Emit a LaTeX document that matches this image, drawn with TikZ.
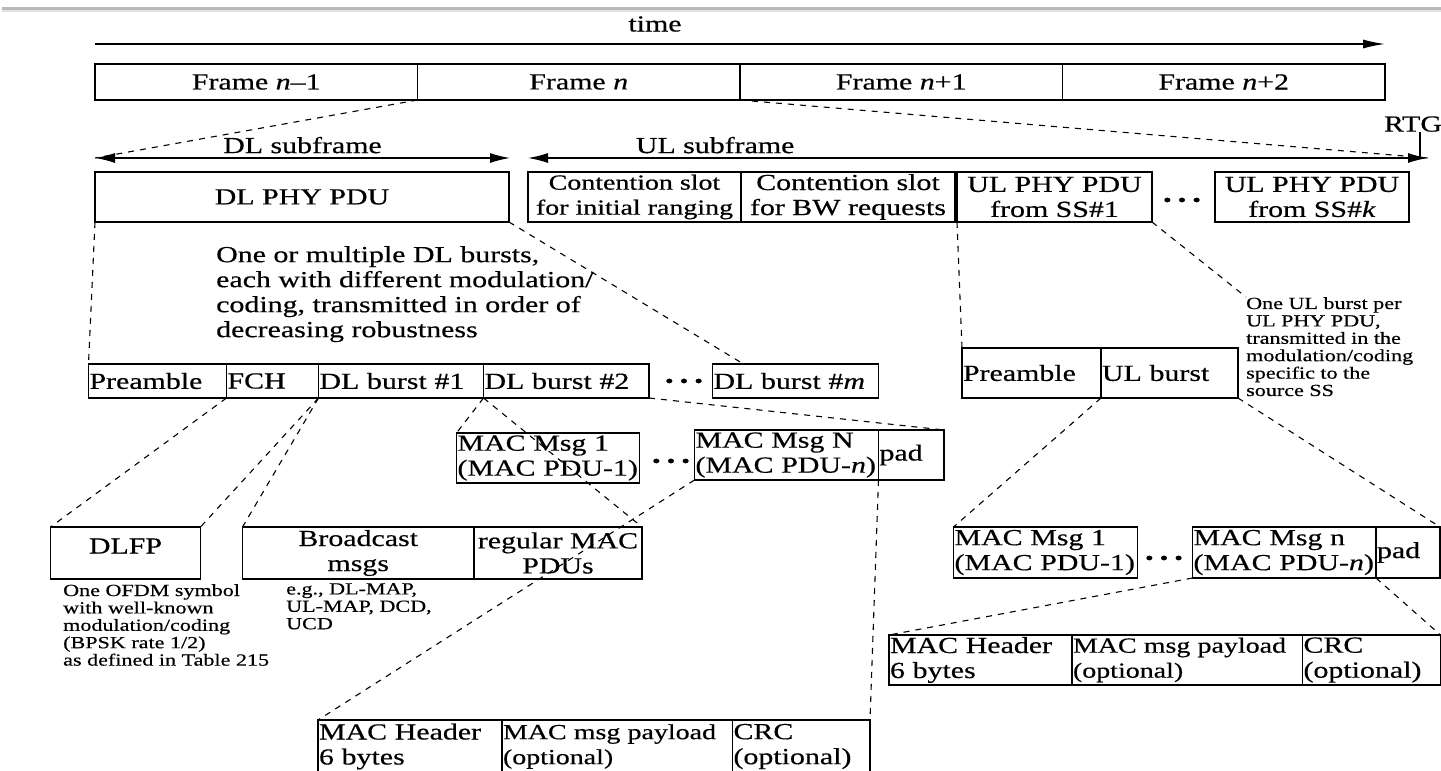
\documentclass[tikz,border=0pt]{standalone}
\usepackage{fontspec}
\setmainfont{Liberation Serif}[FakeStretch=1.3, FakeBold=0.5]
\usetikzlibrary{arrows.meta,positioning,calc}

\newcommand{\bigtxt}{\fontsize{23}{25}\selectfont}
\newcommand{\narrowtxt}{\fontsize{21.5}{25}\selectfont}
\newcommand{\smalltxt}{\fontsize{17}{17.4}\selectfont}
\newcommand{\burstdots}{\textbullet\hspace{6pt}\textbullet\hspace{6pt}\textbullet}

\begin{document}
\begin{tikzpicture}[
    x=1pt, y=-1pt,
    cell/.style={draw, line width=1.4pt, inner xsep=1pt, inner ysep=0pt, outer sep=0pt, align=center},
    lcell/.style={cell, align=left},
    framecell/.style={cell, minimum width=322.5pt, minimum height=36pt},
    notetext/.style={inner sep=0pt, align=left, font=\smalltxt},
    ellip/.style={inner sep=0pt, font=\fontsize{19}{19}\selectfont},
    cutline/.style={line width=1.1pt, dash pattern=on 6pt off 6pt},
    spanarrow/.style={{Latex[length=20pt,width=10pt]}-{Latex[length=20pt,width=10pt]}, line width=1.4pt},
    every node/.append style={font=\bigtxt},
  ]
  \useasboundingbox (0,0) rectangle (1441,771);
  \fill[gray!55] (2,7) rectangle (1441,9.5);
  \fill[gray!22] (2,9.5) rectangle (1441,12);

  % time axis and frames
  \coordinate (tstart) at (95,44);
  \coordinate (tend) at (1385,44);
  \draw[line width=1.4pt, -{Latex[length=22pt,width=9pt]}] (tstart) -- (tend);
  \node (timelbl) at (655,24) {time};

  \node[framecell, anchor=north west] (fprev) at (95,64) {Frame \textit{n}--1};
  \node[framecell, right=0pt of fprev] (fcur) {Frame \textit{n}};
  \node[framecell, right=0pt of fcur] (fnext) {Frame \textit{n}+1};
  \node[framecell, right=0pt of fnext] (fnextb) {Frame \textit{n}+2};

  % subframes
  \coordinate (dls) at (95,158);
  \coordinate (dle) at (510,158);
  \coordinate (uls) at (528,158);
  \coordinate (ule) at (1428,158);
  \draw[spanarrow] (dls) -- node[above, pos=0.5, inner sep=4pt] (dllbl) {DL subframe} (dle);
  \draw[spanarrow] (uls) -- node[above, pos=0.208, inner sep=4pt] (ullbl) {UL subframe} (ule);
  \coordinate (rtgtick) at (1420,158);
  \node[above=26pt of rtgtick, xshift=-7pt, inner sep=0pt] (rtg) {RTG};
  \draw[line width=1.4pt] (rtg.south -| rtgtick) -- (rtgtick);

  \draw[cutline] (fcur.south west) -- (dls);
  \draw[cutline] (fcur.south east) -- (ule);

  % PHY PDUs
  \node[cell, minimum width=414pt, minimum height=50pt, anchor=north west] (dlphy) at (95,172) {DL PHY PDU};
  \node[cell, font=\narrowtxt, minimum width=213pt, minimum height=50pt, anchor=north west] (csinit) at (528,172) {Contention slot\\for initial ranging};
  \node[cell, minimum width=214pt, minimum height=50pt, right=0pt of csinit] (csbw) {Contention slot\\for BW requests};
  \node[cell, minimum width=195pt, minimum height=50pt, right=2pt of csbw] (ulphy1) {UL PHY PDU\\from SS\#1};
  \node[cell, minimum width=194pt, minimum height=50pt, anchor=north west] (ulphyk) at (1215,172) {UL PHY PDU\\from SS\#\textit{k}};
  \node[ellip] (phydots) at (1182,202) {\burstdots};

  % DL bursts
  \node[lcell, text width=136pt, minimum height=34pt, anchor=north west] (dlpre) at (88.5,364) {Preamble};
  \node[lcell, text width=90pt, minimum height=34pt, right=0pt of dlpre] (fch) {FCH};
  \node[lcell, text width=163pt, minimum height=34pt, right=0pt of fch] (dlb1) {DL burst \#1};
  \node[lcell, text width=163.5pt, minimum height=34pt, right=0pt of dlb1] (dlb2) {DL burst \#2};
  \node[lcell, text width=164pt, minimum height=34pt, anchor=north west] (dlbm) at (712.5,364) {DL burst \#\textit{m}};
  \node[ellip] (dldots) at (684,383) {\burstdots};
  \coordinate (dlbmtop) at ($(dlbm.north west)+(31,0)$);
  \node[inner sep=0pt, align=left, anchor=north west] (dlnote) at (216,246) {One or multiple DL bursts,\\each with different modulation/\\coding, transmitted in order of\\decreasing robustness};

  % UL burst
  \node[lcell, text width=137pt, minimum height=50pt, anchor=north west] (ulpre) at (962,348) {Preamble};
  \node[lcell, text width=135pt, minimum height=50pt, right=0pt of ulpre] (ulburst) {UL burst};
  \node[notetext, anchor=north west] (ulnote) at (1246,297) {One UL burst per\\UL PHY PDU,\\transmitted in the\\modulation/coding\\specific to the\\source SS};

  % MAC messages in DL burst
  \node[lcell, text width=181pt, minimum height=50pt, anchor=north west] (macone) at (456.5,433) {MAC Msg 1\\(MAC PDU-1)};
  \node[lcell, text width=182pt, minimum height=50pt, anchor=north west] (macn) at (694.5,430) {MAC Msg N\\(MAC PDU-\textit{n})};
  \node[lcell, text width=63.5pt, minimum height=50pt, right=0pt of macn] (pad) {pad};
  \node[ellip] (macdots) at (671,463) {\burstdots};

  % FCH and first burst
  \node[cell, minimum width=150pt, minimum height=52pt, text depth=14pt, anchor=north west] (dlfp) at (50.5,527) {DLFP};
  \node[cell, minimum width=231.5pt, minimum height=52pt, anchor=north west] (bcast) at (242.5,527) {Broadcast\\msgs};
  \node[cell, minimum width=168pt, minimum height=52pt, right=0pt of bcast] (regmac) {regular MAC\\PDUs};
  \node[notetext, anchor=north west] (dlfpnote) at (63,584) {One OFDM symbol\\with well-known\\modulation/coding\\(BPSK rate 1/2)\\as defined in Table 215};
  \node[notetext, anchor=north west] (bcastnote) at (286,583) {e.g., DL-MAP,\\UL-MAP, DCD,\\UCD};

  % MAC PDU (DL)
  \node[lcell, text width=182pt, minimum height=53pt, anchor=north west] (hdr) at (318,720) {MAC Header\\6 bytes};
  \node[lcell, font=\narrowtxt, text width=228.5pt, minimum height=53pt, right=0pt of hdr] (payload) {MAC msg payload\\(optional)};
  \node[lcell, text width=135.5pt, minimum height=53pt, right=0pt of payload] (crc) {CRC\\(optional)};

  % MAC messages in UL burst
  \node[lcell, text width=182pt, minimum height=51pt, anchor=north west] (ulmacone) at (953.5,527) {MAC Msg 1\\(MAC PDU-1)};
  \node[lcell, text width=181.5pt, minimum height=51pt, anchor=north west] (ulmacn) at (1192.5,527) {MAC Msg n\\(MAC PDU-\textit{n})};
  \node[lcell, text width=62pt, minimum height=51pt, right=0pt of ulmacn] (ulpad) {pad};
  \node[ellip] (ulmacdots) at (1164,560) {\burstdots};

  % MAC PDU (UL)
  \node[lcell, text width=181pt, minimum height=50pt, anchor=north west] (ulhdr) at (889,635) {MAC Header\\6 bytes};
  \node[lcell, font=\narrowtxt, text width=228.5pt, minimum height=50pt, right=0pt of ulhdr] (ulpayload) {MAC msg payload\\(optional)};
  \node[lcell, text width=136pt, minimum height=50pt, right=0pt of ulpayload] (ulcrc) {CRC\\(optional)};

  % Expansion lines
  \draw[cutline] (dlphy.south west) -- (dlpre.north west);
  \draw[cutline] (dlphy.south east) -- (dlbmtop);
  \draw[cutline] (ulphy1.south west) -- (ulpre.north west);
  \draw[cutline] (ulphy1.south east) -- (ulnote.north west);
  \draw[cutline] (fch.south west) -- (dlfp.north west);
  \draw[cutline] (fch.south east) -- (dlfp.north east);
  \draw[cutline] (dlb1.south west) -- (bcast.north west);
  \draw[cutline] (dlb1.south east) -- (regmac.north east);
  \draw[cutline] (dlb2.south west) -- (macone.north west);
  \draw[cutline] (dlb2.south east) -- (pad.north east);
  \draw[cutline] (macn.south west) -- (hdr.north west);
  \draw[cutline] (macn.south east) -- (crc.north east);
  \draw[cutline] (ulburst.south west) -- (ulmacone.north west);
  \draw[cutline] (ulburst.south east) -- (ulpad.north east);
  \draw[cutline] (ulmacn.south west) -- (ulhdr.north west);
  \draw[cutline] (ulmacn.south east) -- (ulcrc.north east);
\end{tikzpicture}
\end{document}
